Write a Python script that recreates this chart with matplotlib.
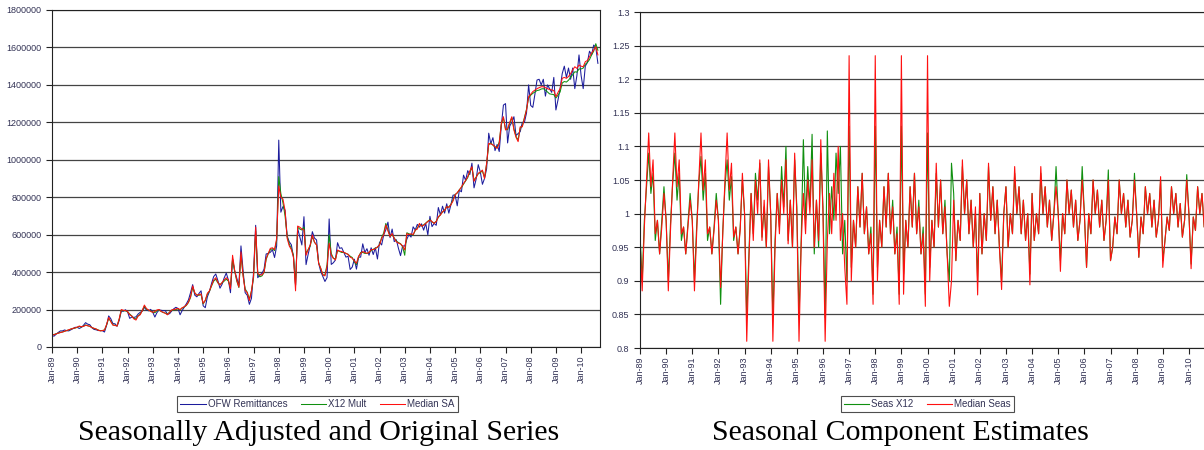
import matplotlib
matplotlib.use("Agg")
import matplotlib.pyplot as plt
import numpy as np

# monthly data Jan-1989 .. Sep-2010, values in thousands
ofw_remit = [
    60, 58, 69, 78, 86, 86, 91, 87, 86, 92, 98, 105,
    105, 99, 105, 116, 130, 122, 119, 103, 94, 92, 88, 88,
    87, 80, 116, 166, 151, 125, 124, 111, 142, 191, 191, 199,
    188, 153, 160, 158, 161, 176, 185, 192, 212, 197, 193, 201,
    185, 160, 184, 198, 196, 194, 194, 175, 178, 192, 204, 212,
    206, 172, 195, 213, 231, 252, 291, 333, 277, 268, 286, 300,
    220, 210, 268, 297, 340, 376, 390, 355, 314, 335, 369, 395,
    358, 290, 470, 406, 369, 330, 540, 410, 290, 276, 228, 260,
    400, 650, 370, 385, 393, 416, 497, 500, 506, 519, 478, 540,
    1105, 720, 750, 730, 592, 562, 546, 480, 330, 633, 589, 545,
    696, 440, 495, 545, 616, 582, 572, 447, 403, 377, 350, 371,
    684, 441, 450, 465, 557, 527, 530, 505, 480, 485, 414, 427,
    469, 416, 480, 480, 551, 505, 525, 490, 530, 494, 530, 470,
    561, 545, 600, 626, 667, 584, 630, 563, 573, 527, 488, 540,
    539, 576, 600, 587, 642, 625, 655, 640, 658, 624, 660, 599,
    698, 643, 660, 650, 745, 705, 752, 715, 765, 715, 760, 811,
    812, 754, 838, 829, 918, 890, 942, 921, 982, 850, 896, 974,
    935, 869, 900, 952, 1142, 1085, 1118, 1049, 1082, 1044, 1182, 1292,
    1300, 1090, 1180, 1200, 1230, 1130, 1140, 1150, 1200, 1200, 1250, 1400,
    1290, 1280, 1350, 1426, 1430, 1400, 1430, 1340, 1400, 1380, 1360, 1440,
    1266, 1320, 1380, 1460, 1500, 1440, 1490, 1430, 1490, 1380, 1450, 1560,
    1450, 1380, 1500, 1520, 1580, 1560, 1613, 1600, 1515,
]
x12_mult = [
    64, 67, 71, 74, 78, 80, 84, 88, 91, 96, 99, 101,
    105, 110, 107, 111, 118, 113, 111, 104, 99, 96, 91, 87,
    88, 91, 118, 152, 138, 118, 116, 113, 148, 196, 194, 193,
    188, 176, 166, 153, 150, 167, 175, 194, 218, 202, 196, 192,
    186, 183, 194, 198, 190, 184, 181, 175, 186, 196, 198, 200,
    204, 198, 208, 214, 222, 238, 265, 318, 288, 278, 276, 280,
    230, 248, 282, 298, 326, 352, 362, 342, 334, 342, 352, 362,
    352, 318, 470, 405, 352, 318, 490, 385, 310, 292, 255, 300,
    370, 620, 390, 375, 380, 398, 468, 498, 520, 525, 515, 570,
    910, 820, 770, 700, 590, 550, 525, 490, 330, 640, 630, 625,
    640, 500, 520, 540, 590, 560, 545, 450, 420, 385, 385, 440,
    600, 500, 474, 470, 515, 510, 505, 505, 500, 495, 485, 478,
    455, 440, 480, 505, 505, 500, 500, 505, 515, 522, 528, 532,
    548, 585, 610, 660, 625, 592, 600, 582, 565, 558, 552, 535,
    490, 610, 605, 600, 598, 622, 635, 655, 648, 652, 662, 672,
    680, 668, 662, 672, 692, 708, 720, 732, 748, 748, 762, 785,
    815, 822, 840, 852, 870, 888, 905, 935, 958, 890, 908, 925,
    932, 940, 905, 978, 1080, 1090, 1078, 1068, 1065, 1095, 1190, 1225,
    1165, 1160, 1195, 1225, 1165, 1125, 1105, 1170, 1180, 1225, 1270, 1330,
    1345, 1355, 1362, 1370, 1372, 1378, 1380, 1372, 1362, 1352, 1350, 1348,
    1330, 1345, 1362, 1410, 1418, 1415, 1425, 1440, 1455, 1470, 1468, 1485,
    1485, 1490, 1510, 1520, 1535, 1560, 1580, 1620, 1585,
]
median_sa = [
    63, 66, 70, 74, 77, 80, 84, 88, 92, 96, 100, 102,
    106, 112, 108, 110, 116, 114, 110, 104, 100, 96, 90, 86,
    88, 90, 120, 158, 135, 117, 115, 112, 150, 200, 196, 195,
    190, 172, 165, 150, 144, 165, 172, 195, 224, 205, 198, 190,
    185, 190, 198, 200, 190, 185, 180, 172, 185, 198, 200, 203,
    206, 200, 210, 215, 224, 240, 269, 326, 290, 276, 280, 283,
    233, 250, 287, 300, 330, 358, 370, 345, 330, 345, 358, 370,
    358, 311, 490, 410, 358, 320, 508, 380, 302, 290, 248, 300,
    380, 640, 393, 385, 385, 400, 473, 500, 527, 530, 520, 580,
    860, 800, 790, 730, 580, 540, 520, 480, 300, 646, 640, 630,
    625, 490, 520, 545, 598, 560, 545, 447, 420, 385, 380, 430,
    554, 490, 474, 465, 518, 512, 510, 505, 500, 495, 480, 474,
    460, 447, 485, 500, 510, 505, 500, 505, 520, 520, 525, 535,
    545, 580, 600, 652, 620, 590, 606, 580, 562, 555, 550, 540,
    518, 606, 600, 605, 600, 625, 630, 660, 645, 650, 660, 670,
    678, 670, 660, 670, 696, 705, 723, 730, 750, 745, 760, 780,
    812, 825, 838, 855, 874, 890, 910, 940, 963, 885, 905, 928,
    935, 945, 900, 981, 1088, 1085, 1080, 1070, 1061, 1088, 1194, 1230,
    1159, 1167, 1200, 1230, 1159, 1120, 1097, 1176, 1176, 1220, 1266, 1337,
    1350, 1364, 1372, 1380, 1385, 1390, 1390, 1385, 1380, 1375, 1373, 1370,
    1337, 1360, 1380, 1435, 1440, 1435, 1445, 1460, 1480, 1497, 1488, 1506,
    1500, 1497, 1524, 1530, 1550, 1570, 1586, 1604, 1560,
]

seas_x12 = [
    0.97, 0.90, 0.99, 1.04, 1.09, 1.03, 1.06, 0.96, 0.99, 0.94, 0.99, 1.04,
    0.99, 0.90, 0.985, 1.045, 1.09, 1.02, 1.06, 0.96, 0.98, 0.94, 0.985, 1.03,
    0.99, 0.90, 0.98, 1.045, 1.085, 1.02, 1.06, 0.96, 0.98, 0.94, 0.98, 1.03,
    0.99, 0.865, 0.975, 1.04, 1.08, 1.02, 1.055, 0.96, 0.98, 0.94, 0.98, 1.05,
    1.0, 0.845, 0.94, 1.03, 0.97, 1.06, 1.02, 1.075, 0.965, 1.01, 0.95, 1.07,
    1.0, 0.845, 0.96, 1.03, 0.98, 1.07, 1.01, 1.10, 0.96, 1.02, 0.95, 1.08,
    1.01, 0.845, 0.96, 1.11, 0.99, 1.07, 1.01, 1.118, 0.94, 1.02, 0.95, 1.09,
    1.01, 0.845, 1.123, 0.97, 1.04, 0.99, 1.09, 1.03, 1.10, 0.94, 0.99, 0.90,
    1.13, 0.92, 0.99, 0.95, 1.04, 0.98, 1.06, 0.97, 1.01, 0.94, 0.98, 0.88,
    1.13, 0.92, 0.99, 0.95, 1.04, 0.98, 1.06, 0.97, 1.02, 0.94, 0.98, 0.88,
    1.13, 0.91, 0.99, 0.95, 1.04, 0.98, 1.06, 0.97, 1.02, 0.94, 0.98, 0.88,
    1.12, 0.92, 0.99, 0.95, 1.06, 0.98, 1.05, 0.97, 1.02, 0.94, 0.90, 1.075,
    1.03, 0.93, 0.99, 0.96, 1.07, 1.0, 1.05, 0.97, 1.02, 0.95, 1.0, 0.90,
    1.03, 0.94, 1.0, 0.96, 1.07, 0.99, 1.04, 0.97, 1.02, 0.95, 0.90, 1.0,
    1.04, 0.95, 1.0, 0.97, 1.06, 1.0, 1.04, 0.97, 1.02, 0.96, 1.0, 0.91,
    1.03, 0.96, 1.0, 0.97, 1.06, 1.0, 1.04, 0.98, 1.02, 0.96, 1.0, 1.07,
    1.0, 0.93, 1.0, 0.97, 1.05, 1.0, 1.035, 0.98, 1.02, 0.96, 0.99, 1.07,
    1.0, 0.92, 1.0, 0.97, 1.05, 1.0, 1.035, 0.98, 1.02, 0.96, 0.99, 1.065,
    0.93, 0.95, 0.995, 0.97, 1.05, 1.0, 1.03, 0.98, 1.02, 0.965, 0.99, 1.06,
    1.0, 0.935, 0.995, 0.97, 1.04, 1.0, 1.03, 0.98, 1.02, 0.965, 0.99, 1.05,
    0.93, 0.96, 0.995, 0.975, 1.04, 1.0, 1.03, 0.98, 1.015, 0.965, 0.99, 1.058,
    1.0, 0.925, 0.995, 0.975, 1.04, 1.0, 1.03, 0.98, 1.01,
]
median_seas = [
    0.96, 0.885, 0.98, 1.05, 1.12, 1.04, 1.08, 0.97, 0.99, 0.94, 0.98, 1.03,
    0.99, 0.885, 0.975, 1.05, 1.12, 1.04, 1.08, 0.97, 0.98, 0.94, 0.98, 1.02,
    0.99, 0.885, 0.97, 1.05, 1.12, 1.035, 1.08, 0.97, 0.98, 0.94, 0.975, 1.02,
    0.99, 0.89, 0.97, 1.05, 1.12, 1.035, 1.075, 0.965, 0.98, 0.94, 0.975, 1.06,
    1.0, 0.81, 0.93, 1.03, 0.96, 1.05, 1.0, 1.08, 0.96, 1.02, 0.95, 1.08,
    1.0, 0.81, 0.95, 1.03, 0.97, 1.05, 1.0, 1.08, 0.955, 1.02, 0.95, 1.09,
    1.0, 0.81, 0.955, 1.03, 0.97, 1.05, 1.0, 1.08, 0.95, 1.02, 0.96, 1.11,
    1.0, 0.81, 0.96, 1.03, 0.97, 1.06, 0.99, 1.10, 0.96, 1.0, 0.92, 0.865,
    1.235, 0.90, 0.99, 0.95, 1.04, 0.98, 1.06, 0.97, 1.01, 0.94, 0.97, 0.865,
    1.235, 0.90, 0.99, 0.95, 1.04, 0.98, 1.06, 0.97, 1.01, 0.94, 0.97, 0.865,
    1.235, 0.88, 0.99, 0.95, 1.04, 0.98, 1.06, 0.97, 1.01, 0.94, 0.97, 0.862,
    1.235, 0.90, 0.99, 0.95, 1.075, 0.98, 1.05, 0.97, 1.01, 0.94, 0.862, 0.90,
    1.02, 0.93, 0.99, 0.96, 1.08, 1.0, 1.05, 0.97, 1.02, 0.95, 1.01, 0.879,
    1.03, 0.94, 1.0, 0.96, 1.075, 0.99, 1.04, 0.97, 1.02, 0.95, 0.887, 1.0,
    1.04, 0.95, 1.0, 0.97, 1.07, 1.0, 1.04, 0.97, 1.02, 0.96, 1.0, 0.894,
    1.03, 0.96, 1.0, 0.97, 1.07, 1.0, 1.04, 0.98, 1.02, 0.96, 1.0, 1.04,
    1.0, 0.914, 1.0, 0.97, 1.05, 1.0, 1.035, 0.98, 1.02, 0.96, 0.99, 1.05,
    1.0, 0.92, 1.0, 0.97, 1.05, 1.0, 1.035, 0.98, 1.02, 0.96, 0.99, 1.05,
    0.93, 0.95, 0.995, 0.97, 1.05, 1.0, 1.03, 0.98, 1.02, 0.965, 0.99, 1.05,
    1.0, 0.935, 0.995, 0.97, 1.04, 1.0, 1.03, 0.98, 1.02, 0.965, 0.99, 1.055,
    0.92, 0.96, 0.995, 0.975, 1.04, 1.0, 1.03, 0.98, 1.015, 0.965, 0.99, 1.05,
    1.0, 0.918, 0.995, 0.975, 1.04, 1.0, 1.03, 0.98, 1.0,
]

year_labels = ["Jan-%02d" % (y % 100) for y in range(1989, 2011)]

txt = "#333355"
plt.rcParams["font.family"] = ["Liberation Sans", "DejaVu Sans"]

W, H = 1204, 450
fig = plt.figure(figsize=(W / 100, H / 100), dpi=100)

def px_axes(l, r, t, b):
    return fig.add_axes([l / W, 1 - b / H, (r - l) / W, (b - t) / H])

def style(ax):
    ax.tick_params(axis="both", direction="out", length=4, width=0.8,
                   color="#222222", labelsize=6.5, labelcolor=txt)
    ax.tick_params(axis="x", labelrotation=90, pad=2)
    for s in ax.spines.values():
        s.set_color("#222222")
        s.set_linewidth(0.8)
    ax.grid(axis="y", color="#444444", linewidth=0.9)
    ax.set_axisbelow(True)

months = np.arange(len(median_sa))
ticks = np.arange(0, len(months), 12)

# left panel
ax1 = px_axes(52, 600, 10, 347)
ax1.plot(months, np.array(ofw_remit) * 1000, color="#1c1c9c", lw=0.75, label="OFW Remittances")
ax1.plot(months, np.array(x12_mult) * 1000, color="#109010", lw=0.75, label="X12 Mult")
ax1.plot(months, np.array(median_sa) * 1000, color="#ff1010", lw=0.75, label="Median SA")
ax1.set_xlim(0, 261)
ax1.set_ylim(0, 1800000)
ax1.set_yticks(np.arange(0, 1800001, 200000))
ax1.set_yticklabels([str(v) for v in range(0, 1800001, 200000)])
ax1.set_xticks(ticks)
ax1.set_xticklabels(year_labels)
style(ax1)

# right panel
ax2 = px_axes(640, 1207, 12, 348)
ax2.plot(months, seas_x12, color="#109010", lw=0.8, label="Seas X12")
ax2.plot(months, median_seas, color="#ff1010", lw=0.8, label="Median Seas")
ax2.set_xlim(0, 260.3)
ax2.set_ylim(0.8, 1.3)
yt = np.round(np.arange(0.8, 1.3001, 0.05), 2)
ax2.set_yticks(yt)
ax2.set_yticklabels(["%g" % v for v in yt])
ax2.set_xticks(ticks)
ax2.set_xticklabels(year_labels)
style(ax2)
ax2.spines["right"].set_visible(False)

for ax, cx in ((ax1, 317.5), (ax2, 927.5)):
    leg = fig.legend(*ax.get_legend_handles_labels(), loc="center",
                     bbox_to_anchor=(cx / W, 1 - 404 / H), ncol=3, fontsize=7,
                     frameon=True, fancybox=False, borderpad=0.35,
                     handlelength=2.6, handletextpad=0.2, columnspacing=1.4,
                     labelcolor=txt)
    leg.get_frame().set_edgecolor("#222222")
    leg.get_frame().set_linewidth(0.8)

fig.text(319 / W, 1 - 433 / H, "Seasonally Adjusted and Original Series",
         ha="center", va="center", fontsize=21.5, family="Liberation Serif")
fig.text(900 / W, 1 - 433 / H, "Seasonal Component Estimates",
         ha="center", va="center", fontsize=21.5, family="Liberation Serif")

fig.savefig("out.png", dpi=100)
